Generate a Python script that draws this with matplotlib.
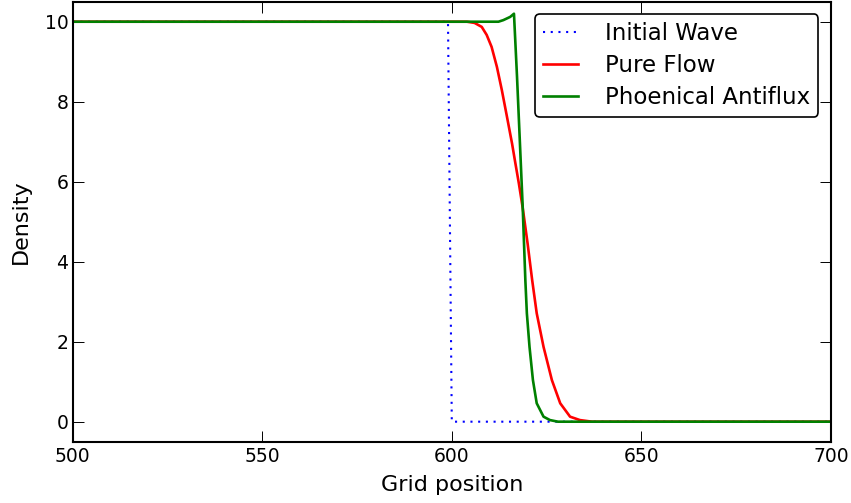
import matplotlib
matplotlib.use("Agg")
import matplotlib.pyplot as plt

# Initial wave (step)
init_x = [500, 599, 600, 700]
init_y = [10, 10, 0, 0]

# Pure flow (smooth front)
flow_x = [500, 604, 606, 607.9, 609.2, 610.5, 611.9, 613.2, 614.5, 615.9, 616.7, 617.7,
          618.7, 620, 621.2, 622.4, 624.2, 626.4, 628.6, 631.2, 633.8, 637, 700]
flow_y = [10, 10, 9.97, 9.87, 9.67, 9.37, 8.87, 8.29, 7.65, 6.95, 6.5, 5.95,
          5.35, 4.45, 3.54, 2.71, 1.87, 1.04, 0.46, 0.125, 0.04, 0.0, 0.0]

# Phoenical antiflux (sharp front with small overshoot)
anti_x = [500, 612.3, 613.6, 615.4, 616.4, 617.2, 618.0, 618.7, 619.4, 619.8, 620.5,
          621.4, 622.4, 624.2, 625.9, 628, 700]
anti_y = [10, 10, 10.04, 10.12, 10.2, 8.63, 6.9, 5.37, 3.54, 2.71, 1.87,
          1.04, 0.46, 0.125, 0.04, 0.0, 0.0]

plt.rcParams['font.family'] = 'DejaVu Sans'

fig = plt.figure(figsize=(8.51, 5.03), dpi=100)
ax = fig.add_axes([0.0854, 0.1219, 0.891, 0.8747])

ax.plot(init_x, init_y, color='blue', linestyle=(0, (1, 2.7)), linewidth=1.5, label='Initial Wave')
ax.plot(flow_x, flow_y, color='red', linewidth=1.9, label='Pure Flow')
ax.plot(anti_x, anti_y, color='green', linewidth=1.9, label='Phoenical Antiflux')

ax.set_xlim(500, 700)
ax.set_ylim(-0.5, 10.5)
ax.set_xticks([500, 550, 600, 650, 700])
ax.set_yticks([0, 2, 4, 6, 8, 10])
ax.tick_params(direction='in', top=True, right=True, length=8, width=0.7, labelsize=13.5)
ax.tick_params(axis='x', pad=4)
ax.tick_params(axis='y', pad=3)
for s in ax.spines.values():
    s.set_linewidth(1.5)

ax.set_xlabel('Grid position', fontsize=16, labelpad=6)
ax.set_ylabel('Density', fontsize=16, labelpad=10)

leg = ax.legend(loc='upper right', fontsize=16.5, handlelength=1.5, handletextpad=1.2,
                labelspacing=0.38, borderaxespad=0.55, borderpad=0.35, fancybox=True, framealpha=1)
leg.get_frame().set_edgecolor('black')
leg.get_frame().set_linewidth(1.2)

fig.savefig('out.png', dpi=100)
